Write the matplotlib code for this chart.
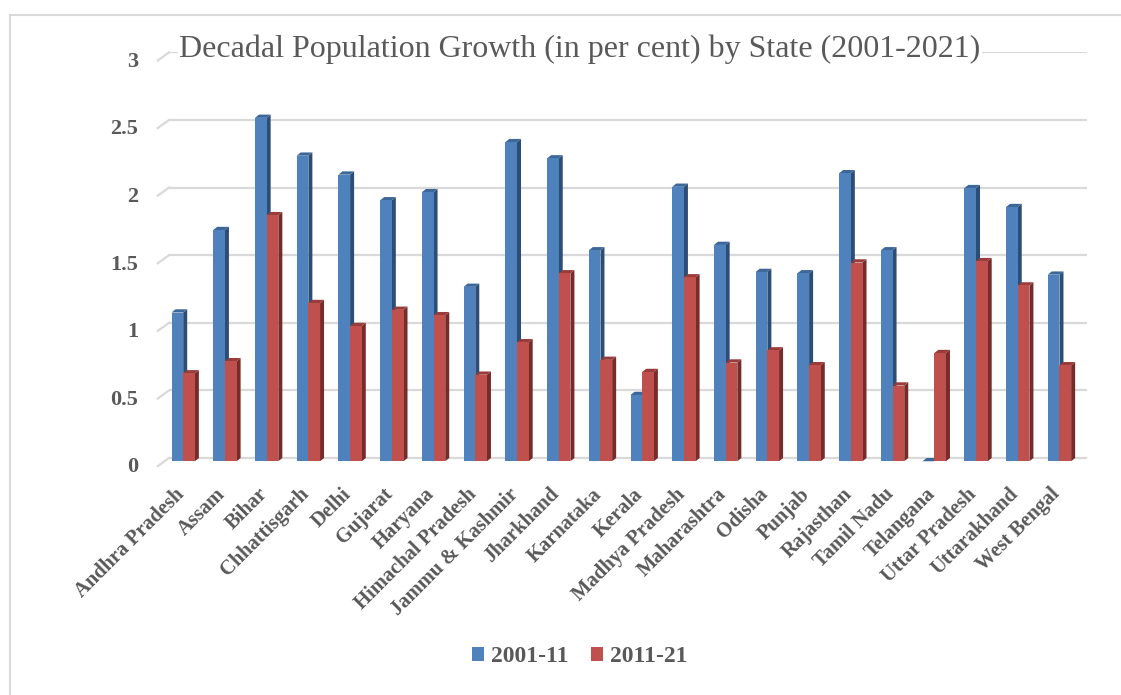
import matplotlib
matplotlib.use("Agg")
import matplotlib.pyplot as plt
import numpy as np
from matplotlib.patches import Polygon, Patch, Rectangle
from matplotlib.transforms import ScaledTranslation

states = ["Andhra Pradesh", "Assam", "Bihar", "Chhattisgarh", "Delhi", "Gujarat",
          "Haryana", "Himachal Pradesh", "Jammu & Kashmir", "Jharkhand", "Karnataka",
          "Kerala", "Madhya Pradesh", "Maharashtra", "Odisha", "Punjab", "Rajasthan",
          "Tamil Nadu", "Telangana", "Uttar Pradesh", "Uttarakhand", "West Bengal"]
growth_2001_11 = [1.10, 1.71, 2.54, 2.26, 2.12, 1.93, 1.99, 1.29, 2.36, 2.24, 1.56,
                  0.49, 2.03, 1.60, 1.40, 1.39, 2.13, 1.56, 0.00, 2.02, 1.88, 1.38]
growth_2011_21 = [0.65, 0.74, 1.82, 1.17, 1.00, 1.12, 1.08, 0.64, 0.88, 1.39, 0.75,
                  0.66, 1.36, 0.73, 0.82, 0.71, 1.47, 0.56, 0.80, 1.48, 1.30, 0.71]
series_names = ["2001-11", "2011-21"]
y_ticks = [0, 0.5, 1, 1.5, 2, 2.5, 3]
title = "Decadal Population Growth (in per cent) by State (2001-2021)"

plt.rcParams["font.family"] = ["Liberation Serif", "DejaVu Serif"]
TXT = "#595959"
GRID = "#d9d9d9"
FRONT = ["#4f81bd", "#c0504d"]
SIDE = ["#2c4d75", "#772c2a"]
TOP = ["#3d6699", "#9a3d3a"]

W, H = 1121, 695
fig = plt.figure(figsize=(W / 100, H / 100), dpi=100)

# chart frame
fig.patches.append(Rectangle((10 / W, -0.1), 1.2, (H - 15) / H + 0.1,
                             transform=fig.transFigure, fill=False,
                             edgecolor="#d9d9d9", lw=1.5))

left, right = 169 / W, 1087 / W
ymin, ymax = -0.04, 3.0
ppu = 135.2
bottom_px = 458 + (-ymin) * ppu
top_px = 458 - ymax * ppu
ax = fig.add_axes([left, (H - bottom_px) / H, right - left, (bottom_px - top_px) / H])
ax.set_xlim(-0.5, len(states) - 0.5)
ax.set_ylim(ymin, ymax)
for s in ax.spines.values():
    s.set_visible(False)

# gridlines on the back wall with a short slanted floor edge on the left
for v in y_ticks:
    ax.plot([-0.5, len(states) - 0.5], [v, v], color=GRID, lw=1.6, zorder=0,
            solid_capstyle="butt")
    ax.plot([-0.5 - 0.27, -0.5], [v - 0.06, v], color=GRID, lw=1.6, zorder=0,
            clip_on=False)

bw = 0.28      # front face width
dx = 0.096     # depth offset in x
dz = 0.024     # depth offset in y
x = np.arange(len(states))
offsets = [-0.44, -0.16]

for k, vals in enumerate([growth_2001_11, growth_2011_21]):
    x0s = x + offsets[k]
    for x0, v in zip(x0s, vals):
        x1 = x0 + bw
        z = 2 + k
        ax.add_patch(Polygon([(x1, -dz), (x1 + dx, 0), (x1 + dx, v), (x1, v - dz)],
                             closed=True, facecolor=SIDE[k], edgecolor="none",
                             zorder=z, clip_on=False))
        ax.add_patch(Polygon([(x0, v - dz), (x1, v - dz), (x1 + dx, v), (x0 + dx, v)],
                             closed=True, facecolor=TOP[k], edgecolor="none",
                             zorder=z, clip_on=False))
    ax.bar(x0s, np.array(vals), bottom=-dz, width=bw, align="edge",
           color=FRONT[k], edgecolor="none", zorder=2 + k, clip_on=False)

# y tick labels
ax.set_yticks(y_ticks)
ax.set_yticklabels([f"{t:g}" for t in y_ticks])
ax.tick_params(axis="y", length=0, pad=22, labelsize=16, labelcolor=TXT)
for lab in ax.get_yticklabels():
    lab.set_fontweight("bold")
    lab.set_transform(lab.get_transform() + ScaledTranslation(0, -0.07, fig.dpi_scale_trans))

# x tick labels
ax.set_xticks(x - 0.38)
ax.set_xticklabels(states, rotation=45, ha="right", rotation_mode="anchor")
ax.tick_params(axis="x", length=0, pad=15, labelsize=14.8, labelcolor=TXT)
for lab in ax.get_xticklabels():
    lab.set_fontweight("bold")

# title
fig.text(580 / W, (H - 57) / H, title, ha="center", va="baseline", fontsize=23,
         color=TXT, bbox=dict(facecolor="white", edgecolor="none", pad=1))

# legend
handles = [Patch(facecolor=FRONT[i], edgecolor="none", label=series_names[i]) for i in range(2)]
leg = fig.legend(handles=handles, loc="center", bbox_to_anchor=(580 / W, (H - 657) / H),
                 ncol=2, frameon=False, handlelength=0.5, handleheight=0.5,
                 handletextpad=0.3, columnspacing=0.95, labelcolor=TXT,
                 prop={"weight": "bold", "size": 17})

fig.savefig("out.png", dpi=100)
